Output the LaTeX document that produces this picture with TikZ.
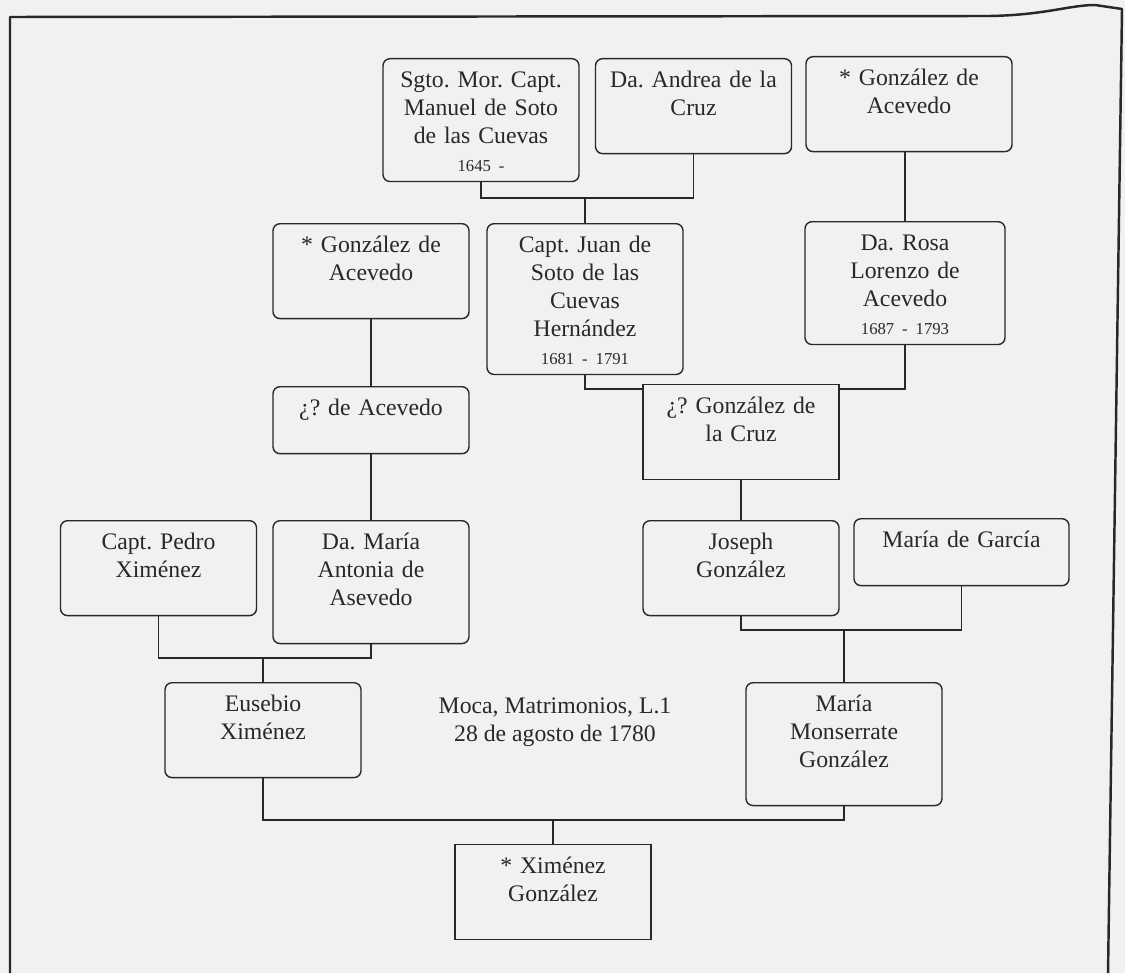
\documentclass[tikz,border=0pt]{standalone}
\usepackage{fontspec}
\setmainfont{Liberation Serif}
\usetikzlibrary{backgrounds}
\definecolor{paper}{RGB}{241,241,239}
\definecolor{ink}{RGB}{40,40,40}
\newcommand{\yrs}[1]{{\fontsize{9.5}{12}\selectfont #1}}
\frenchspacing
\begin{document}
\begin{tikzpicture}
    % Node styles
    \tikzset{person/.style={draw=ink, line width=0.8pt, rounded corners=4pt, fill=paper, text=ink,
        anchor=north, align=center, text width=3.78cm, inner xsep=2pt, inner ysep=3pt,
        text height=13.5pt, font=\fontsize{13.5}{15.9}\selectfont},
      square/.style={person, sharp corners},
      slots/.style={text depth=15.9pt*#1-13.2pt},
      link/.style={draw=ink, line width=0.7pt}}
    \useasboundingbox (0,0) rectangle (22.5,-19.46);

    % --- Generation 1: Soto / de la Cruz, González de Acevedo ---
    \node[person, slots=4] (manuel) at (9.62,-1.16) {Sgto. Mor. Capt.\\Manuel de Soto\\de las Cuevas\\\yrs{1645 -}};
    \node[person, slots=3] (andrea) at (13.87,-1.16) {Da. Andrea de la\\Cruz};
    \node[person, slots=3, text width=3.98cm] (gacev1) at (18.18,-1.12) {* González de\\Acevedo};

    % --- Generation 2 ---
    \node[person, slots=3] (gacev2) at (7.42,-4.46) {* González de\\Acevedo};
    \node[person, slots=5] (juan) at (11.70,-4.46) {Capt. Juan de\\Soto de las\\Cuevas\\Hernández\\\yrs{1681 - 1791}};
    \node[person, slots=4, text width=3.86cm] (rosa) at (18.10,-4.42) {Da. Rosa\\Lorenzo de\\Acevedo\\\yrs{1687 - 1793}};

    % --- Generation 3 ---
    \node[person, slots=2] (dacev) at (7.42,-7.72) {¿? de Acevedo};
    \node[square, slots=3] (gcruz) at (14.82,-7.68) {¿? González de\\la Cruz};

    % --- Generation 4 ---
    \node[person, slots=3] (pedro) at (3.17,-10.40) {Capt. Pedro\\Ximénez};
    \node[person, slots=4] (mantonia) at (7.42,-10.40) {Da. María\\Antonia de\\Asevedo};
    \node[person, slots=3] (joseph) at (14.82,-10.40) {Joseph\\González};
    \node[person, slots=2, text width=4.16cm] (mgarcia) at (19.23,-10.36) {María de García};

    % --- Generation 5: the marriage ---
    \node[person, slots=3] (eusebio) at (5.26,-13.64) {Eusebio\\Ximénez};
    \node[person, slots=4] (monserrate) at (16.88,-13.64) {María\\Monserrate\\González};
    \node[text=ink, align=center, font=\fontsize{13.5}{15.9}\selectfont] (moca) at (11.10,-14.44) {Moca, Matrimonios, L.1\\28 de agosto de 1780};

    % --- Generation 6 ---
    \node[square, slots=3] (ximenez) at (11.06,-16.88) {* Ximénez\\González};

    % Junction points of the couples
    \coordinate (m1) at (11.70,-3.96);
    \coordinate (m2) at (14.82,-7.78);
    \coordinate (m3) at (5.26,-13.16);
    \coordinate (m4) at (16.88,-12.60);
    \coordinate (m5) at (11.06,-16.40);

    % Connectors (behind the boxes)
    \begin{scope}[on background layer]
      \fill[paper] (0,0) rectangle (22.5,-19.46);
      \draw[link] (manuel.south) |- (m1) -| (andrea.south);
      \draw[link] (m1) -- (juan.north);
      \draw[link] (rosa.north) -- (rosa.north |- gacev1.south);
      \draw[link] (gacev2.south) -- (dacev.north);
      \draw[link] (juan.south) |- (m2) -| (rosa.south);
      \draw[link] (gcruz.south) -- (joseph.north);
      \draw[link] (dacev.south) -- (mantonia.north);
      \draw[link] (pedro.south) |- (m3) -| (mantonia.south);
      \draw[link] (m3) -- (eusebio.north);
      \draw[link] (joseph.south) |- (m4) -| (mgarcia.south);
      \draw[link] (m4) -- (monserrate.north);
      \draw[link] (eusebio.south) |- (m5) -| (monserrate.south);
      \draw[link] (m5) -- (ximenez.north);
    \end{scope}

    % Page frame
    \draw[ink, line width=1.4pt, line join=round] (0.2,-19.46) -- (0.2,-0.34) -- (19.8,-0.32)
      .. controls (20.9,-0.3) and (21.4,-0.1) .. (21.9,-0.1) -- (22.44,-0.18) -- (22.16,-19.46);
\end{tikzpicture}
\end{document}
